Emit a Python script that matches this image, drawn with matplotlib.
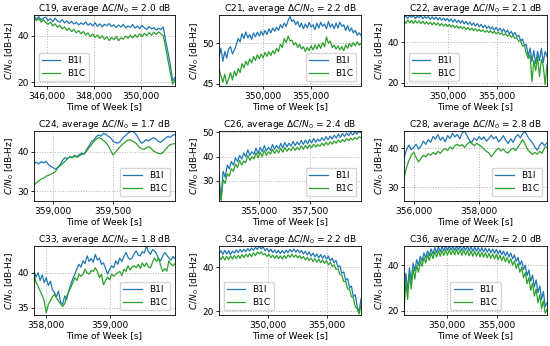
import numpy as np
import matplotlib
matplotlib.use("Agg")
import matplotlib.pyplot as plt
from matplotlib.ticker import FuncFormatter

# ---------------- data ----------------
satellites = ["C19", "C21", "C22", "C24", "C26", "C28", "C33", "C34", "C36"]
avg_delta = [2.0, 2.2, 2.1, 1.7, 2.4, 2.8, 1.8, 2.2, 2.0]
tow_start = [345450, 345420, 345510, 358840, 353040, 355690, 357818, 345850, 345610]
tow_end = [351450, 360200, 360100, 360017, 360000, 360090, 360010, 357880, 360100]

c19_b1i = [48.5, 47.0, 48.2, 46.8, 47.5, 48.0, 46.5, 47.3, 46.0, 47.6,
           46.2, 45.8, 46.9, 45.5, 46.4, 45.2, 46.1, 45.0, 45.8, 44.6,
           45.5, 44.8, 45.9, 44.5, 45.3, 44.2, 45.6, 44.0, 45.1, 43.8,
           44.9, 44.3, 45.2, 43.9, 44.7, 43.5, 44.6, 43.7, 44.9, 43.4,
           44.2, 43.6, 44.8, 43.2, 44.1, 43.0, 44.4, 43.3, 42.7, 43.9,
           42.9, 43.5, 42.4, 43.2, 42.6, 43.8, 38.0, 33.0, 27.5, 20.5, 22.0]
c19_b1c = [47.8, 46.5, 47.4, 45.9, 46.8, 45.6, 44.9, 45.8, 44.2, 45.1,
           43.6, 44.5, 42.9, 43.8, 42.3, 43.2, 41.8, 42.7, 41.2, 42.2,
           40.8, 41.8, 40.2, 41.2, 39.6, 40.7, 39.2, 40.3, 38.8, 39.9,
           38.4, 39.5, 37.9, 39.2, 38.3, 39.6, 37.8, 39.1, 38.5, 39.8,
           38.9, 40.2, 39.0, 40.4, 39.3, 40.8, 39.6, 41.0, 40.0, 41.3,
           40.2, 41.5, 40.4, 41.6, 40.8, 40.0, 35.0, 29.5, 24.0, 19.0, 21.0]

c21_b1i = [48.3, 49.4, 47.8, 49.0, 48.2, 49.3, 49.6, 48.7, 49.2, 49.8,
           50.6, 50.2, 51.2, 50.6, 51.4, 50.7, 51.1, 50.5, 51.3, 50.8,
           51.4, 50.9, 51.5, 51.0, 51.6, 51.1, 51.8, 51.3, 51.9, 51.5,
           52.0, 51.6, 52.3, 51.9, 52.5, 52.1, 52.8, 53.3, 52.7, 52.9,
           52.3, 52.7, 52.0, 52.5, 51.8, 52.4, 51.9, 52.6, 52.0, 52.3,
           51.7, 52.5, 51.9, 52.6, 52.1, 52.4, 51.8, 52.7, 52.0, 52.4,
           51.8, 52.5, 51.9, 52.6, 52.1, 52.3, 51.6, 52.2, 51.5, 51.9,
           51.3, 51.6, 51.0, 51.3, 51.0]
c21_b1c = [46.9, 46.0, 45.2, 46.2, 45.0, 45.6, 46.4, 45.5, 46.6, 46.0,
           46.9, 46.4, 47.5, 47.0, 47.8, 47.3, 48.1, 47.6, 48.4, 47.9,
           48.6, 48.1, 48.7, 48.2, 48.9, 48.4, 49.0, 48.5, 49.1, 48.7,
           49.4, 49.0, 49.9, 49.5, 50.6, 50.1, 50.9, 50.3, 50.4, 49.8,
           50.1, 49.5, 49.9, 49.3, 49.6, 49.0, 49.5, 49.1, 49.7, 49.2,
           49.8, 49.3, 49.9, 49.4, 50.1, 49.6, 50.8, 50.0, 50.3, 49.5,
           49.8, 49.3, 49.7, 49.2, 49.6, 49.1, 49.8, 49.4, 50.0, 49.6,
           50.1, 49.7, 50.2, 49.8, 50.0]

c22_b1i = [52.0, 53.2, 51.8, 53.0, 52.4, 53.1, 51.7, 52.9, 52.2, 53.0,
           51.6, 52.8, 51.9, 52.7, 51.4, 52.6, 51.3, 52.5, 51.0, 52.3,
           50.9, 52.0, 50.7, 51.8, 50.4, 51.6, 50.0, 51.3, 49.8, 50.9,
           49.5, 50.7, 49.1, 50.4, 48.8, 50.0, 48.4, 49.6, 48.0, 49.3,
           47.6, 48.9, 47.2, 48.5, 46.9, 48.0, 46.5, 47.6, 46.0, 47.4,
           45.7, 47.0, 45.3, 46.6, 44.8, 46.0, 44.2, 45.4, 43.5, 44.8,
           42.8, 43.5, 40.8, 41.6, 38.5, 39.0, 33.0, 37.2, 30.5, 36.0,
           29.5, 35.5, 31.0, 37.0, 30.0, 35.5, 33.0]
c22_b1c = [50.6, 49.4, 51.0, 49.6, 50.8, 49.3, 50.7, 49.5, 50.6, 49.2,
           50.4, 49.0, 50.2, 48.9, 50.0, 48.6, 49.8, 48.5, 49.6, 48.2,
           49.3, 48.0, 49.0, 47.8, 48.8, 47.5, 48.5, 47.2, 48.2, 46.9,
           47.9, 46.7, 47.6, 46.3, 47.3, 46.0, 47.0, 45.8, 46.7, 45.5,
           46.4, 45.3, 46.2, 45.0, 45.9, 44.8, 45.7, 44.5, 45.4, 44.2,
           45.1, 44.0, 44.7, 43.5, 44.3, 43.0, 43.8, 42.5, 43.2, 41.9,
           42.2, 40.5, 40.8, 38.2, 38.5, 34.5, 32.0, 33.8, 20.5, 31.0,
           26.0, 33.0, 23.0, 31.5, 28.5, 19.0, 29.0]

c24_b1i = [37.0, 37.4, 36.9, 37.5, 37.2, 37.6, 36.8, 36.3, 36.0, 35.6,
           36.1, 36.8, 37.9, 38.5, 38.2, 38.8, 38.6, 39.1, 38.8, 39.3,
           39.7, 39.4, 40.6, 41.5, 42.6, 43.0, 43.8, 44.3, 44.0, 44.7,
           44.5, 44.0, 43.6, 42.8, 42.4, 42.2, 42.6, 43.4, 44.0, 44.6,
           45.0, 45.3, 44.9, 44.2, 43.0, 42.2, 42.6, 43.1, 42.8, 43.3,
           43.6, 43.2, 42.7, 42.4, 42.9, 43.5, 43.9, 43.7, 44.2, 44.4]
c24_b1c = [31.5, 32.2, 32.6, 33.1, 33.3, 33.8, 34.0, 34.3, 34.6, 35.0,
           36.0, 36.5, 37.1, 37.6, 38.3, 38.7, 38.5, 38.9, 38.6, 39.0,
           39.3, 39.6, 40.2, 41.0, 41.8, 42.6, 43.2, 43.6, 43.4, 42.9,
           42.4, 41.6, 40.5, 39.2, 39.8, 40.6, 41.3, 41.9, 42.4, 42.9,
           43.1, 42.8, 42.5, 42.0, 41.2, 40.8, 40.6, 41.0, 41.3, 40.9,
           40.2, 39.9, 39.6, 39.5, 39.8, 40.6, 41.3, 41.8, 42.0, 42.1]

c26_b1i = [32.0, 22.5, 34.0, 31.5, 36.5, 35.0, 38.0, 36.5, 39.5, 38.0,
           40.5, 39.0, 41.5, 40.0, 42.8, 40.5, 42.0, 41.0, 43.5, 41.2,
           43.8, 42.0, 44.5, 42.3, 43.8, 42.5, 45.0, 43.0, 44.6, 43.2,
           45.4, 43.6, 45.8, 44.0, 45.5, 44.3, 46.2, 44.5, 46.0, 44.8,
           46.6, 45.0, 46.8, 45.3, 47.0, 45.6, 47.4, 45.9, 47.2, 46.3,
           47.8, 46.6, 48.2, 46.9, 48.4, 47.2, 48.8, 47.6, 49.2, 47.9,
           49.4, 48.3, 49.7, 48.6, 50.0, 48.9, 50.2, 49.3, 50.3, 49.8]
c26_b1c = [28.0, 22.0, 30.5, 29.0, 33.0, 32.0, 35.0, 34.0, 37.0, 35.5,
           38.5, 36.5, 38.2, 37.5, 40.5, 38.5, 40.0, 39.0, 41.5, 39.5,
           41.8, 40.0, 42.5, 40.5, 42.0, 41.0, 43.0, 41.3, 42.8, 41.5,
           43.5, 41.8, 43.7, 42.2, 43.4, 42.4, 44.0, 42.6, 43.8, 42.8,
           44.4, 43.0, 44.6, 43.3, 44.8, 43.6, 45.1, 43.9, 45.0, 44.2,
           45.5, 44.5, 45.9, 44.8, 46.1, 45.1, 46.4, 45.5, 46.8, 45.8,
           47.0, 46.2, 47.3, 46.5, 47.6, 46.8, 47.9, 47.1, 48.1, 47.8]

c28_b1i = [37.5, 39.5, 40.8, 39.6, 40.2, 41.0, 39.8, 40.5, 41.8, 41.0,
           42.2, 41.5, 43.0, 42.3, 43.5, 42.0, 42.8, 41.6, 43.2, 42.5,
           43.8, 42.9, 43.5, 42.4, 43.9, 44.4, 43.2, 42.0, 41.5, 42.6,
           42.0, 43.0, 42.2, 42.9, 41.8, 42.5, 43.3, 42.4, 43.0, 41.6,
           42.3, 43.2, 42.0, 41.2, 42.4, 41.5, 42.8, 43.5, 42.6, 43.8,
           44.2, 43.0, 42.1, 41.4, 40.2, 39.5, 40.8, 41.5, 40.6, 41.4]
c28_b1c = [32.5, 35.0, 36.8, 38.2, 39.0, 37.6, 36.5, 37.4, 38.2, 37.8,
           38.6, 38.2, 38.9, 38.4, 39.2, 38.7, 39.5, 39.9, 39.4, 40.3,
           39.8, 40.7, 41.0, 40.5, 40.9, 40.2, 41.0, 41.6, 41.2, 40.6,
           41.3, 40.8, 40.4, 39.8, 39.2, 38.8, 37.8, 38.6, 39.5, 40.0,
           39.3, 39.8, 39.0, 38.8, 39.6, 40.0, 39.4, 40.3, 41.2, 42.2,
           41.0, 39.6, 39.0, 38.4, 38.9, 38.5, 39.2, 38.7, 40.1, 40.4]

c33_b1i = [40.2, 39.4, 40.0, 38.9, 39.7, 38.6, 39.3, 38.2, 38.8, 37.6,
           37.2, 36.6, 37.4, 35.8, 35.5, 36.7, 36.2, 37.5, 38.3, 39.2,
           39.8, 40.6, 41.2, 40.8, 41.7, 41.3, 42.4, 41.6, 42.0, 41.5,
           42.6, 41.8, 42.1, 41.2, 41.4, 40.6, 39.8, 40.5, 41.0, 40.7,
           41.7, 41.2, 42.1, 41.6, 42.3, 42.9, 42.2, 41.9, 42.1, 42.7,
           43.1, 42.5, 42.4, 43.0, 42.8, 43.8, 43.0, 42.6, 43.3, 43.1,
           42.7, 41.9, 41.7, 42.4, 42.9, 42.5, 42.1, 41.8, 42.3, 42.0]
c33_b1c = [39.8, 38.6, 38.1, 37.4, 36.8, 36.0, 34.3, 35.5, 36.0, 36.6,
           36.9, 36.4, 36.0, 35.6, 35.2, 35.6, 36.7, 37.3, 37.9, 38.6,
           39.3, 38.9, 39.8, 39.5, 39.8, 40.5, 40.0, 39.8, 40.3, 40.2,
           40.7, 40.2, 39.3, 39.8, 38.3, 38.9, 39.4, 39.0, 39.8, 39.5,
           39.8, 40.0, 40.2, 39.6, 40.5, 40.2, 41.0, 40.4, 40.8, 41.0,
           40.7, 41.2, 40.6, 41.4, 40.9, 41.4, 40.8, 40.7, 41.5, 42.1,
           41.6, 42.1, 41.0, 40.2, 40.6, 40.2, 41.7, 41.2, 41.0, 41.3]

c34_b1i = [46.2, 47.4, 45.8, 47.6, 46.0, 47.5, 45.7, 47.3, 46.4, 47.8,
           46.6, 48.0, 46.8, 48.1, 47.0, 48.4, 47.3, 48.7, 47.6, 49.0,
           48.0, 49.6, 48.2, 49.3, 47.4, 48.5, 47.0, 48.2, 46.6, 47.8,
           46.4, 47.6, 46.2, 47.5, 46.3, 47.7, 46.6, 48.1, 46.9, 48.2,
           46.8, 47.9, 46.5, 47.6, 46.0, 47.2, 45.5, 46.9, 45.0, 46.4,
           44.6, 46.0, 44.2, 45.7, 44.0, 45.4, 43.6, 45.0, 42.8, 44.1,
           42.0, 43.0, 40.0, 40.6, 37.2, 37.8, 34.0, 34.8, 30.6, 31.4,
           26.6, 27.4, 22.0, 19.5, 25.5]
c34_b1c = [44.8, 43.4, 45.0, 43.2, 44.9, 43.5, 45.1, 43.6, 45.3, 43.9,
           45.4, 44.0, 45.7, 44.3, 45.9, 44.6, 46.2, 44.8, 46.5, 45.2,
           46.9, 45.9, 47.0, 45.6, 46.1, 44.8, 45.9, 44.3, 45.5, 44.0,
           45.3, 43.8, 45.1, 43.7, 45.2, 44.0, 45.6, 44.4, 45.9, 44.5,
           45.5, 44.2, 45.2, 43.8, 44.8, 43.3, 44.5, 42.9, 44.1, 42.6,
           43.8, 42.2, 43.6, 42.0, 43.3, 41.7, 42.9, 41.0, 42.2, 40.3,
           41.0, 39.0, 39.2, 36.6, 36.4, 33.4, 33.5, 30.0, 30.0, 26.5,
           26.0, 22.0, 21.0, 18.6, 23.0]

c36_b1i = [26.0, 36.5, 29.0, 39.0, 33.0, 41.0, 37.5, 42.5, 40.0, 44.0,
           41.8, 45.5, 43.2, 46.4, 44.2, 47.2, 45.0, 47.8, 45.6, 48.2,
           46.0, 48.3, 46.4, 48.4, 46.6, 48.4, 46.8, 48.4, 46.6, 48.4,
           46.8, 48.4, 46.5, 48.3, 46.7, 48.4, 46.4, 48.2, 46.2, 48.0,
           46.2, 47.9, 46.0, 47.8, 45.9, 47.6, 45.7, 47.4, 45.5, 47.2,
           45.3, 47.0, 45.0, 46.7, 44.7, 46.3, 44.2, 45.9, 43.7, 45.4,
           42.9, 44.6, 41.8, 43.5, 40.2, 42.0, 38.2, 40.0, 35.5, 38.0,
           33.0, 35.8, 30.5, 33.6, 28.0, 31.0, 25.0, 28.5, 22.0, 23.5]
c36_b1c = [20.0, 33.0, 25.0, 36.5, 29.5, 38.5, 34.0, 40.0, 37.0, 42.0,
           39.5, 43.5, 41.0, 44.6, 42.2, 45.4, 43.0, 46.0, 43.6, 46.4,
           44.0, 46.6, 44.3, 46.8, 44.5, 46.9, 44.7, 46.9, 44.6, 47.0,
           44.7, 46.8, 44.4, 46.7, 44.6, 46.6, 44.2, 46.4, 44.0, 46.2,
           44.0, 46.0, 43.8, 45.8, 43.6, 45.5, 43.3, 45.3, 43.1, 45.0,
           42.8, 44.8, 42.5, 44.4, 42.1, 44.0, 41.6, 43.5, 41.0, 42.9,
           40.1, 42.0, 38.7, 40.8, 37.0, 39.2, 34.6, 36.8, 32.0, 34.6,
           29.0, 32.2, 26.5, 29.6, 23.5, 27.0, 21.0, 24.5, 19.0, 20.5]

b1i_series = [c19_b1i, c21_b1i, c22_b1i, c24_b1i, c26_b1i, c28_b1i, c33_b1i, c34_b1i, c36_b1i]
b1c_series = [c19_b1c, c21_b1c, c22_b1c, c24_b1c, c26_b1c, c28_b1c, c33_b1c, c34_b1c, c36_b1c]

x_ticks = [[346000, 348000, 350000], [350000, 355000], [350000, 355000],
           [359000, 359500], [355000, 357500], [356000, 358000],
           [358000, 359000], [350000, 355000], [350000, 355000]]
y_ticks = [[20, 40], [45, 50], [20, 40], [30, 40], [30, 40, 50], [30, 40],
           [35, 40], [20, 40], [20, 40]]
y_lims = [(18.3, 48.9), (44.75, 53.5), (18.4, 53.5), (27.5, 45.3), (21.8, 50.5),
          (26.5, 44.4), (34.0, 43.8), (18.2, 49.6), (18.2, 48.5)]
legend_locs = ["lower left", "lower right", "lower left", "lower right", "lower right",
               "lower right", "lower right", "lower left", "lower center"]

# ---------------- layout ----------------
W, H = 550, 346
col_lr = [(34, 175), (219, 361), (404, 547)]
row_tb = [(15, 86), (131, 201), (246, 315)]
FS = 6.5

plt.rcParams["font.family"] = ["DejaVu Sans"]
plt.rcParams["font.size"] = FS
fig = plt.figure(figsize=(W / 100, H / 100), dpi=100)

fmt = FuncFormatter(lambda v, p: f"{v:,.0f}")

for i in range(9):
    r, c = divmod(i, 3)
    l, rr = col_lr[c]
    t, b = row_tb[r]
    ax = fig.add_axes([l / W, 1 - b / H, (rr - l) / W, (b - t) / H])
    xi = np.linspace(tow_start[i], tow_end[i], len(b1i_series[i]))
    xc = np.linspace(tow_start[i], tow_end[i], len(b1c_series[i]))
    ax.plot(xi, b1i_series[i], color="tab:blue", lw=0.9, label="B1I")
    ax.plot(xc, b1c_series[i], color="tab:green", lw=0.9, label="B1C")
    ax.set_xlim(tow_start[i], tow_end[i])
    ax.set_ylim(*y_lims[i])
    ax.set_xticks(x_ticks[i])
    ax.set_yticks(y_ticks[i])
    ax.xaxis.set_major_formatter(fmt)
    ax.tick_params(labelsize=FS, length=2.5, width=0.6, pad=1.5)
    ax.grid(True, linestyle=":", color="#b0b0b0", lw=0.7)
    for s in ax.spines.values():
        s.set_linewidth(0.6)
    ax.set_title(f"{satellites[i]}, average $\\Delta C/N_0$ = {avg_delta[i]:.1f} dB",
                 fontsize=FS, pad=2.5)
    ax.set_xlabel("Time of Week [s]", fontsize=FS, labelpad=1)
    ax.set_ylabel("$C/N_0$ [dB-Hz]", fontsize=FS, labelpad=1)
    ax.legend(loc=legend_locs[i], fontsize=FS, handlelength=2.0, borderpad=0.4,
              labelspacing=0.4, framealpha=0.8)

fig.savefig("out.png", dpi=100)
